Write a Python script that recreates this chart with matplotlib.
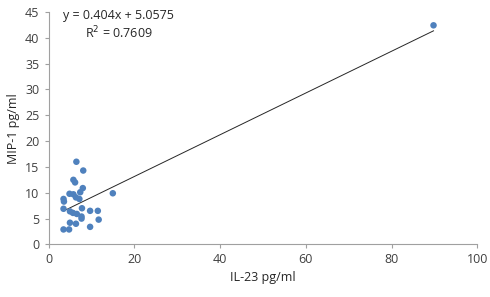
"""
Scatter of MIP-1 vs IL-23 with linear trendline.
"""

# %%
import matplotlib
matplotlib.use('Agg')
import matplotlib.pyplot as plt
import numpy as np

plt.rcParams['font.family'] = ['Open Sans', 'DejaVu Sans']

# %% data
il23 = [6.5, 8.1, 5.8, 6.2, 8.0, 7.4, 4.9, 5.8, 6.4, 7.2, 3.5, 3.6, 15.0,
        3.5, 5.0, 5.7, 6.6, 7.8, 9.7, 11.5, 7.7, 7.7, 11.7, 5.0, 6.4, 9.7,
        3.5, 4.8, 89.8]
mip1 = [16.0, 14.3, 12.5, 12.0, 10.9, 10.1, 9.8, 9.7, 9.1, 8.8, 8.8, 8.3, 9.9,
        6.9, 6.4, 6.1, 5.9, 7.0, 6.5, 6.5, 5.4, 5.0, 4.8, 4.2, 4.0, 3.4,
        2.9, 2.9, 42.4]
slope = 0.404
intercept = 5.0575
r2 = 0.7609
xTicks = [0, 20, 40, 60, 80, 100]
yTicks = [0, 5, 10, 15, 20, 25, 30, 35, 40, 45]

# %% plot
fig = plt.figure(figsize=(4.9, 2.97), dpi=100)
ax = fig.add_axes([0.099, 0.177, 0.875, 0.783])

xFit = np.array([min(il23), max(il23)])
ax.plot(xFit, slope * xFit + intercept, color='#262626', linewidth=0.7, zorder=2)
ax.scatter(il23, mip1, s=22, color='#4F81BD', edgecolors='none', zorder=3)

ax.set_xlim(0, 100)
ax.set_ylim(0, 45)
ax.set_xticks(xTicks)
ax.set_yticks(yTicks)
ax.tick_params(labelsize=9, colors='#404040', length=3, width=0.8)
for side in ['left', 'bottom']:
    ax.spines[side].set_color('#A0A0A0')
for side in ['top', 'right']:
    ax.spines[side].set_visible(False)
ax.tick_params(axis='both', color='#A0A0A0')

ax.set_xlabel('IL-23 pg/ml', fontsize=9, color='#262626', labelpad=3)
ax.set_ylabel('MIP-1 pg/ml', fontsize=9, color='#262626', labelpad=4)

ax.text(16.3, 45.6, f'y = {slope}x + {intercept}\nR$^2$ = {r2}', fontsize=9,
        ha='center', va='top', color='#262626', linespacing=1.25)

fig.savefig('out.png', dpi=100)
